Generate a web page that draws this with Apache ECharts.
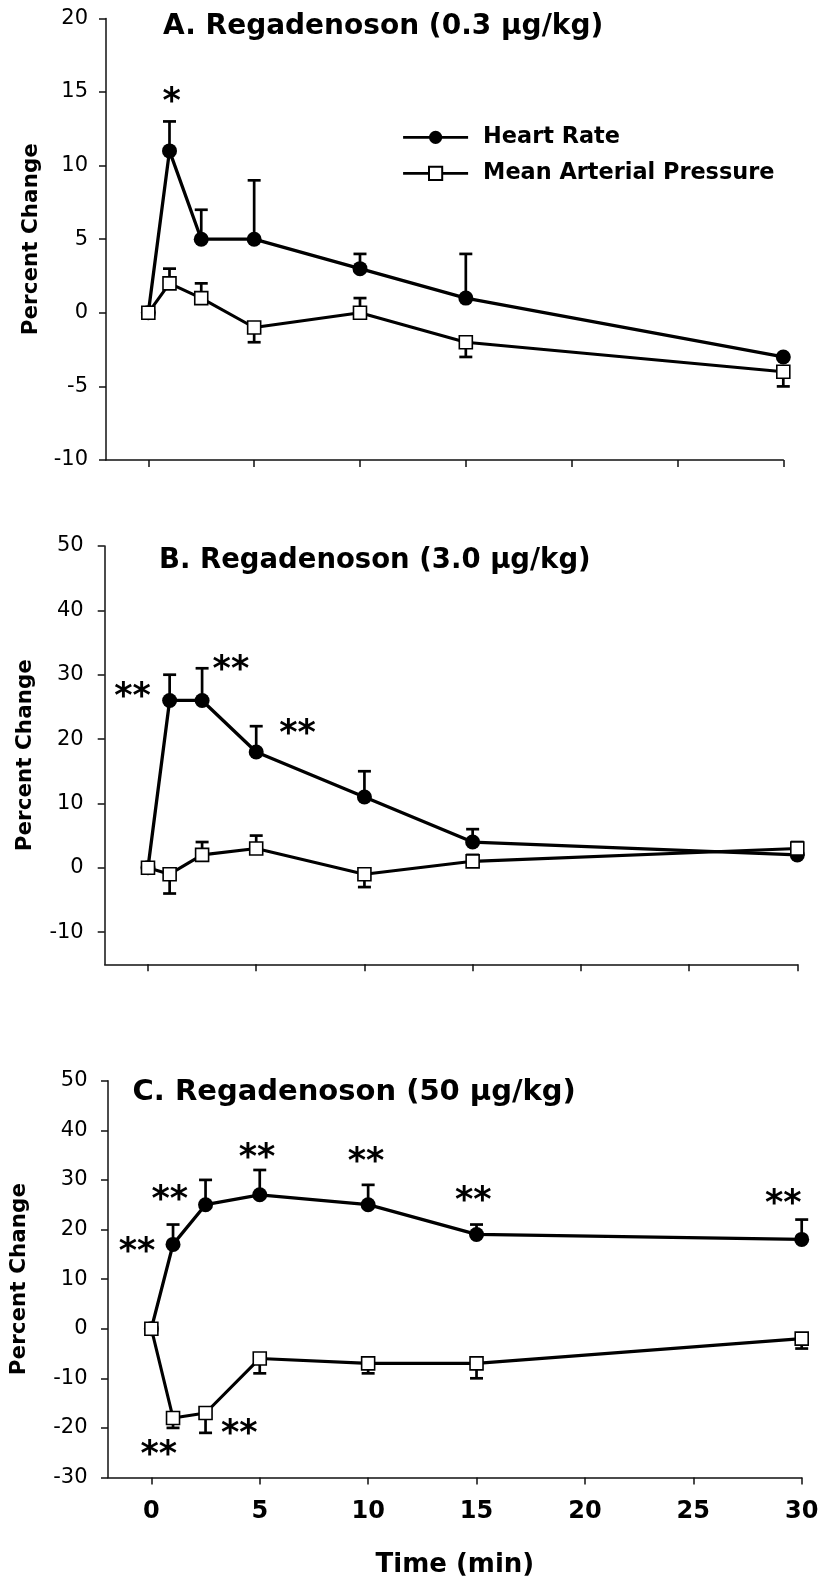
<!DOCTYPE html>
<html><head><meta charset="utf-8">
<script src="https://cdn.jsdelivr.net/npm/echarts@6/dist/echarts.min.js"></script>
<style>html,body{margin:0;padding:0;background:#fff}#c{width:819px;height:1581px}</style>
</head><body><div id="c"></div><script>
// ---- data ----
const timePoints = [0, 1, 2.5, 5, 10, 15, 30];
const xTickValues = [0, 5, 10, 15, 20, 25, 30];
const seriesNames = ['Heart Rate', 'Mean Arterial Pressure'];
const panelTitles = ['A. Regadenoson (0.3 μg/kg)', 'B. Regadenoson (3.0 μg/kg)', 'C. Regadenoson (50 μg/kg)'];
// Panel A (0.3 ug/kg)
const hrA = [0, 11, 5, 5, 3, 1, -3];
const hrErrA = [null, 13, 7, 9, 4, 4, null];
const mapA = [0, 2, 1, -1, 0, -2, -4];
const mapErrA = [null, 3, 2, -2, 1, -3, -5];
const starsA = [[1.1, 14.8, '*']];
const yTicksA = [-10, -5, 0, 5, 10, 15, 20];
// Panel B (3.0 ug/kg)
const hrB = [0, 26, 26, 18, 11, 4, 2];
const hrErrB = [null, 30, 31, 22, 15, 6, null];
const mapB = [0, -1, 2, 3, -1, 1, 3];
const mapErrB = [null, -4, 4, 5, -3, 2, 4];
const starsB = [[-0.71, 27.6, '**'], [3.83, 31.7, '**'], [6.91, 21.85, '**']];
const yTicksB = [-10, 0, 10, 20, 30, 40, 50];
// Panel C (50 ug/kg)
const hrC = [0, 17, 25, 27, 25, 19, 18];
const hrErrC = [null, 21, 30, 32, 29, 21, 22];
const mapC = [0, -18, -17, -6, -7, -7, -2];
const mapErrC = [null, -20, -21, -9, -9, -10, -4];
const starsC = [[-0.66, 16.8, '**'], [0.85, 27.2, '**'], [4.87, 35.7, '**'], [9.9, 35, '**'],
                [14.85, 27, '**'], [29.15, 26.5, '**'], [0.34, -24.1, '**'], [4.06, -19.9, '**']];
const yTicksC = [-30, -20, -10, 0, 10, 20, 30, 40, 50];

// ---- layout / style ----
const FONT = 'DejaVu Sans';
const AX = '#111';
const panels = [
  {hr: hrA, hrErr: hrErrA, map: mapA, mapErr: mapErrA, stars: starsA, yTicks: yTicksA, ymin: -10, ymax: 20,
   grid: {left: 106, top: 18.4, width: 677.3, height: 441.6}, labelMargin: 18, nameGap: 62.7,
   title: {left: 163, top: 12.4, size: 28}},
  {hr: hrB, hrErr: hrErrB, map: mapB, mapErr: mapErrB, stars: starsB, yTicks: yTicksB, ymin: -15, ymax: 50,
   grid: {left: 104.7, top: 546, width: 692.6, height: 418.3}, labelMargin: 21, nameGap: 68.4,
   title: {left: 159, top: 546.8, size: 27.5}},
  {hr: hrC, hrErr: hrErrC, map: mapC, mapErr: mapErrC, stars: starsC, yTicks: yTicksC, ymin: -30, ymax: 50,
   grid: {left: 108, top: 1080.7, width: 693.7, height: 396.8}, labelMargin: 20.5, nameGap: 78,
   title: {left: 132.5, top: 1077.6, size: 29}}
];

function pairs(vals) { return timePoints.map((t, i) => [t, vals[i]]); }
function errData(vals, errs) {
  return timePoints.map((t, i) => [t, vals[i], errs[i]]).filter(d => d[2] != null);
}
function errRender(params, api) {
  const x = api.value(0), y = api.value(1), e = api.value(2);
  const p0 = api.coord([x, y]), p1 = api.coord([x, e]);
  const hw = 6.5;
  const st = {stroke: '#000', lineWidth: 2.7};
  return {type: 'group', children: [
    {type: 'line', shape: {x1: p0[0], y1: p0[1], x2: p1[0], y2: p1[1]}, style: st},
    {type: 'line', shape: {x1: p1[0] - hw, y1: p1[1], x2: p1[0] + hw, y2: p1[1]}, style: st}
  ]};
}
function starRenderFor(stars) {
  return function (params, api) {
    const p = api.coord([api.value(0), api.value(1)]);
    const fs = 35;
    return {type: 'text', x: p[0], y: p[1] + fs * 0.214,
      style: {text: stars[params.dataIndex][2], fill: '#000', font: 'bold ' + fs + 'px "' + FONT + '"',
              textAlign: 'center', textVerticalAlign: 'middle'}};
  };
}

const grids = [], xAxes = [], yAxes = [], series = [], titles = [];
panels.forEach((P, gi) => {
  grids.push(Object.assign({outerBoundsMode: 'none', containLabel: false}, P.grid));
  const isLast = gi === panels.length - 1;
  xAxes.push({
    type: 'value', gridIndex: gi, min: -2, max: 30,
    axisLine: {show: true, onZero: false, lineStyle: {color: AX, width: 1.5}},
    axisTick: {show: true, customValues: xTickValues, length: 7, lineStyle: {color: AX, width: 1.5}},
    axisLabel: {show: isLast, customValues: xTickValues, margin: 22, color: '#000',
                fontFamily: FONT, fontWeight: 'bold', fontSize: 24},
    splitLine: {show: false},
    name: isLast ? 'Time (min)' : '', nameLocation: 'middle', nameGap: 75,
    nameTextStyle: {fontFamily: FONT, fontWeight: 'bold', fontSize: 26, color: '#000'}
  });
  yAxes.push({
    type: 'value', gridIndex: gi, min: P.ymin, max: P.ymax,
    axisLine: {show: true, onZero: false, lineStyle: {color: AX, width: 1.5}},
    axisTick: {show: true, customValues: P.yTicks, length: 7, lineStyle: {color: AX, width: 1.5}},
    axisLabel: {customValues: P.yTicks, margin: P.labelMargin, color: '#000', fontFamily: FONT, fontSize: 21},
    splitLine: {show: false},
    name: 'Percent Change', nameLocation: 'middle', nameGap: P.nameGap,
    nameTextStyle: {fontFamily: FONT, fontWeight: 'bold', fontSize: 21.5, color: '#000'}
  });
  titles.push({text: panelTitles[gi], left: P.title.left, top: P.title.top, padding: 0,
    textStyle: {fontFamily: FONT, fontWeight: 'bold', fontSize: P.title.size, color: '#000'}});
  series.push(
    {type: 'custom', name: 'hrErr' + gi, xAxisIndex: gi, yAxisIndex: gi, data: errData(P.hr, P.hrErr),
     renderItem: errRender, z: 1, silent: true},
    {type: 'custom', name: 'mapErr' + gi, xAxisIndex: gi, yAxisIndex: gi, data: errData(P.map, P.mapErr),
     renderItem: errRender, z: 1, silent: true},
    {type: 'line', name: seriesNames[0], xAxisIndex: gi, yAxisIndex: gi, data: pairs(P.hr),
     symbol: 'circle', symbolSize: 15, showAllSymbol: true, z: 3,
     lineStyle: {color: '#000', width: 3.3}, itemStyle: {color: '#000', borderWidth: 0}},
    {type: 'line', name: seriesNames[1], xAxisIndex: gi, yAxisIndex: gi, data: pairs(P.map),
     symbol: 'rect', symbolSize: 13, showAllSymbol: true, z: 4,
     lineStyle: {color: '#000', width: 3.1}, itemStyle: {color: '#fff', borderColor: '#000', borderWidth: 1.6}},
    {type: 'custom', name: 'stars' + gi, xAxisIndex: gi, yAxisIndex: gi, data: P.stars.map(s => [s[0], s[1]]),
     renderItem: starRenderFor(P.stars), z: 5, silent: true}
  );
});

const chart = echarts.init(document.getElementById('c'), null, {renderer: 'canvas'});
chart.setOption({
  backgroundColor: '#fff',
  animation: false,
  title: titles,
  legend: {
    data: seriesNames, orient: 'vertical', left: 401.7, top: 126.3, padding: 0,
    itemWidth: 65, itemHeight: 16.5, itemGap: 14, selectedMode: false,
    lineStyle: {color: '#000', width: 2.8},
    textStyle: {fontFamily: FONT, fontWeight: 'bold', fontSize: 22.4, color: '#000', lineHeight: 22,
                padding: [0, 0, 0, 10]}
  },
  grid: grids, xAxis: xAxes, yAxis: yAxes, series: series
});
</script></body></html>
